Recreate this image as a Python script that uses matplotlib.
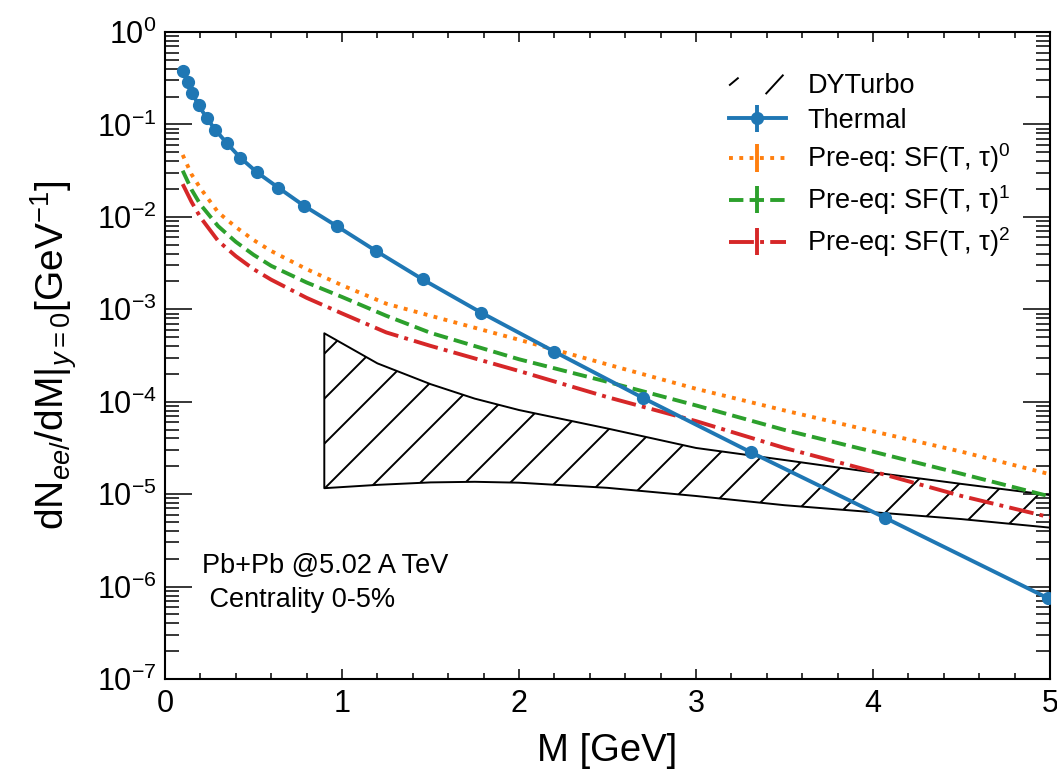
import numpy as np
import matplotlib
matplotlib.use('Agg')
from matplotlib import pyplot as plt
from matplotlib.collections import LineCollection
from matplotlib.legend_handler import HandlerBase
from matplotlib.lines import Line2D
from matplotlib.ticker import LogLocator, MultipleLocator, NullFormatter

plt.rcParams['font.family'] = ['Liberation Sans', 'DejaVu Sans']
plt.rcParams['mathtext.fontset'] = 'custom'
plt.rcParams['mathtext.rm'] = 'Liberation Sans'
plt.rcParams['mathtext.it'] = 'Liberation Sans:italic'
plt.rcParams['mathtext.bf'] = 'Liberation Sans:bold'

# thermal dilepton yield (points)
m_thermal = [0.10, 0.13, 0.155, 0.19, 0.235, 0.285, 0.35, 0.425, 0.52, 0.64,
             0.785, 0.97, 1.19, 1.455, 1.785, 2.2, 2.7, 3.31, 4.07, 4.99]
y_thermal = [0.378, 0.286, 0.217, 0.161, 0.118, 0.0871, 0.0625, 0.0437, 0.0303, 0.0207,
             0.0132, 7.96e-3, 4.30e-3, 2.11e-3, 9.23e-4, 3.48e-4, 1.10e-4, 2.84e-5, 5.52e-6, 7.46e-7]

# pre-equilibrium curves
m_pre = [0.1, 0.15, 0.2, 0.3, 0.4, 0.5, 0.6, 0.8, 1.0, 1.25, 1.5, 2.0, 2.5, 3.0, 3.5, 4.0, 4.5, 5.0]
y_sf0 = [0.0468, 0.0288, 0.0204, 0.0112, 7.76e-3, 5.62e-3, 4.27e-3, 2.72e-3, 1.82e-3, 1.15e-3,
         8.51e-4, 4.68e-4, 2.53e-4, 1.38e-4, 8.04e-5, 4.79e-5, 2.88e-5, 1.64e-5]
y_sf1 = [0.0316, 0.0197, 0.0136, 7.94e-3, 5.37e-3, 3.89e-3, 2.95e-3, 1.95e-3, 1.36e-3, 8.51e-4,
         5.56e-4, 2.88e-4, 1.64e-4, 9.12e-5, 4.95e-5, 2.88e-5, 1.66e-5, 9.44e-6]
y_sf2 = [0.0226, 0.0145, 9.89e-3, 5.50e-3, 3.76e-3, 2.72e-3, 2.09e-3, 1.33e-3, 9.02e-4, 5.62e-4,
         4.02e-4, 2.15e-4, 1.12e-4, 6.17e-5, 3.16e-5, 1.76e-5, 9.55e-6, 5.62e-6]

# DYTurbo band
m_dy = [0.9, 1.2, 1.5, 1.75, 2.0, 2.5, 3.0, 3.5, 4.0, 4.5, 5.0]
dy_hi = [5.50e-4, 2.60e-4, 1.55e-4, 1.08e-4, 8.13e-5, 5.13e-5, 3.16e-5, 2.34e-5, 1.72e-5, 1.29e-5, 9.77e-6]
dy_lo = [1.16e-5, 1.26e-5, 1.34e-5, 1.36e-5, 1.33e-5, 1.17e-5, 9.55e-6, 7.59e-6, 6.38e-6, 5.37e-6, 4.34e-6]


class HatchHandler(HandlerBase):
    def create_artists(self, legend, orig_handle, xdescent, ydescent, width, height, fontsize, trans):
        segs = [[(0.02 * width - xdescent, 0.45 * height - ydescent), (0.16 * width - xdescent, 0.8 * height - ydescent)],
                [(0.66 * width - xdescent, 0.0 - ydescent), (0.95 * width - xdescent, 0.95 * height - ydescent)]]
        out = []
        for s in segs:
            l = Line2D([s[0][0], s[1][0]], [s[0][1], s[1][1]], color='black', lw=1.4, transform=trans)
            out.append(l)
        return out


fig = plt.figure(figsize=(10.57, 7.73), dpi=100)
ax = fig.add_axes([165 / 1057, 1 - 679 / 773, 885 / 1057, 647 / 773])

band = ax.fill_between(m_dy, dy_lo, dy_hi, facecolor='none', edgecolor='black', lw=1.4, zorder=1)
# sparse hatch, clipped to the band
W, H = 885.0, 647.0
offs = np.arange(-31 - 45 * 20, W, 45)
segs = [[(c / W, 0), ((c + H) / W, 1)] for c in offs]
hatch = LineCollection(segs, colors='black', linewidths=1.4, transform=ax.transAxes, zorder=1)
hatch.set_clip_path(band.get_paths()[0], ax.transData)
ax.add_collection(hatch)

ax.errorbar(m_thermal, y_thermal, yerr=np.zeros(len(m_thermal)), fmt='o-', color='#1f77b4',
            lw=2.8, ms=8.5, elinewidth=2.8, label='Thermal', zorder=5)
ax.errorbar(m_pre, y_sf0, yerr=np.zeros(len(m_pre)), fmt=':', color='#ff7f0e', lw=2.8,
            elinewidth=2.8, label='Pre-eq: SF(T, τ)$^{0}$', zorder=4)
ax.errorbar(m_pre, y_sf1, yerr=np.zeros(len(m_pre)), fmt='--', color='#2ca02c', lw=2.8,
            elinewidth=2.8, label='Pre-eq: SF(T, τ)$^{1}$', zorder=4)
ax.errorbar(m_pre, y_sf2, yerr=np.zeros(len(m_pre)), fmt='-.', color='#d62728', lw=2.8,
            elinewidth=2.8, label='Pre-eq: SF(T, τ)$^{2}$', zorder=4)

ax.set_yscale('log')
ax.set_xlim(0, 5)
ax.set_ylim(1e-7, 1)
ax.xaxis.set_major_locator(MultipleLocator(1))
ax.xaxis.set_minor_locator(MultipleLocator(0.2))
ax.yaxis.set_major_locator(LogLocator(base=10, numticks=20))
ax.yaxis.set_minor_locator(LogLocator(base=10, subs=np.arange(2, 10), numticks=20))
ax.yaxis.set_minor_formatter(NullFormatter())

ax.tick_params(axis='both', which='both', direction='in', top=True, right=True, width=1.1, labelsize=22)
ax.tick_params(axis='y', which='major', length=19.5, pad=6)
ax.tick_params(axis='y', which='minor', length=10)
ax.tick_params(axis='x', which='major', length=7.5, pad=7)
ax.tick_params(axis='x', which='minor', length=4.5)
for sp in ax.spines.values():
    sp.set_linewidth(1.5)

ax.set_xlabel('M [GeV]', fontsize=27.5, labelpad=10)
ax.set_ylabel(r'dN$_{ee/}$/dM$|_{y=0}$[GeV$^{-1}$]', fontsize=28, labelpad=13)

ax.text(0.042, 0.175, 'Pb+Pb @5.02 A TeV', transform=ax.transAxes, fontsize=19.5, va='center', ha='left')
ax.text(0.042, 0.122, ' Centrality 0-5%', transform=ax.transAxes, fontsize=19.5, va='center', ha='left')

handles, labels = ax.get_legend_handles_labels()
dy_handle = Line2D([], [])
leg = ax.legend([dy_handle] + handles, ['DYTurbo'] + labels, handler_map={dy_handle: HatchHandler()},
                loc='upper left', bbox_to_anchor=(0.637, 0.936), frameon=False, fontsize=19.5,
                borderpad=0, borderaxespad=0, handlelength=2.1, handletextpad=0.8, labelspacing=0.3)

fig.savefig('out.png', dpi=100)
